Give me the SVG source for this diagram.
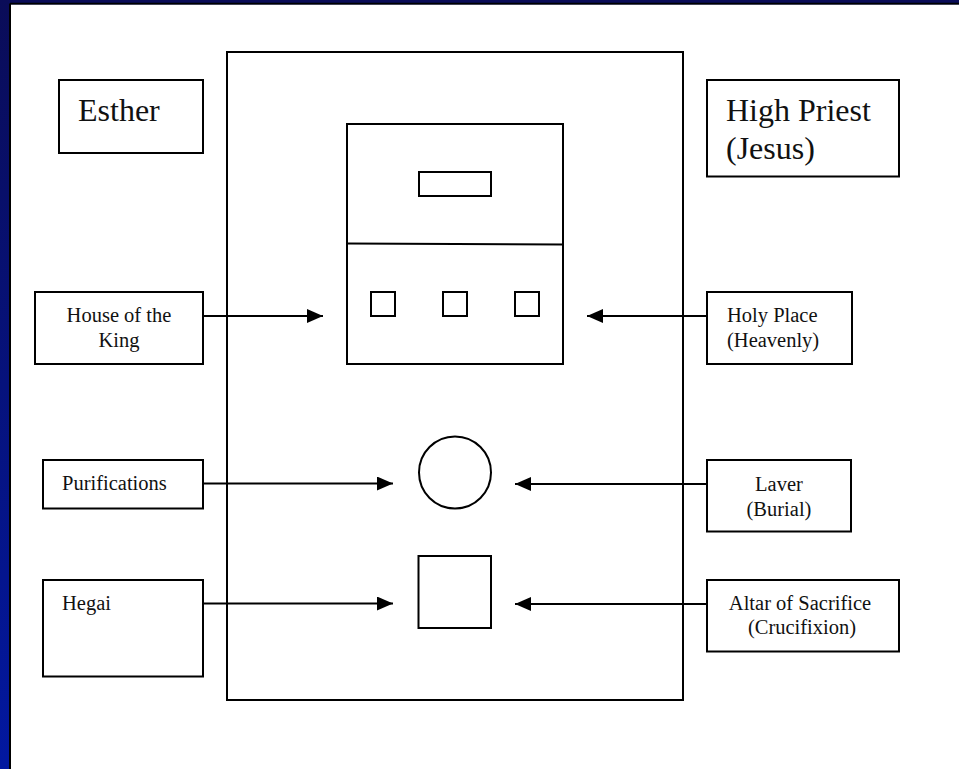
<svg xmlns="http://www.w3.org/2000/svg" width="959" height="769" viewBox="0 0 959 769">
<defs>
<linearGradient id="bg" x1="0" y1="0" x2="0" y2="1">
<stop offset="0" stop-color="#0a0c58"/>
<stop offset="1" stop-color="#0218a0"/>
</linearGradient>
<marker id="ah" markerWidth="16" markerHeight="14" refX="16" refY="7" orient="auto" markerUnits="userSpaceOnUse">
<path d="M0,0 L16,7 L0,14 Z" fill="#000"/>
</marker>
<style>
.box{fill:#fff;stroke:#000;stroke-width:2}
.shape{fill:none;stroke:#000;stroke-width:2}
.t{font-family:"Liberation Serif","Times New Roman",serif;fill:#111}
.big{font-size:32px}
.sm{font-size:20.5px}
.conn{stroke:#000;stroke-width:2;fill:none;marker-end:url(#ah)}
</style>
</defs>
<rect x="0" y="0" width="959" height="769" fill="url(#bg)"/>
<rect x="11" y="4.5" width="948" height="764.5" fill="#fff"/>
<line x1="10" y1="3.5" x2="10" y2="769" stroke="#000" stroke-width="2"/>
<line x1="10" y1="3.6" x2="959" y2="3.6" stroke="#000" stroke-width="1.6"/>

<g id="tabernacle">
<rect class="shape" x="227" y="52" width="456" height="648"/>
<rect class="shape" x="347" y="124" width="216" height="240"/>
<line x1="347" y1="243.5" x2="563" y2="244.5" stroke="#000" stroke-width="2"/>
<rect class="shape" x="419" y="172" width="72" height="24"/>
<rect class="shape" x="371" y="292" width="24" height="24"/>
<rect class="shape" x="443" y="292" width="24" height="24"/>
<rect class="shape" x="515" y="292" width="24" height="24"/>
<circle class="shape" cx="455" cy="472.5" r="36"/>
<rect class="shape" x="418.5" y="556" width="72.5" height="72"/>
</g>

<g id="connectors">
<line class="conn" x1="203" y1="316" x2="323" y2="316"/>
<line class="conn" x1="707" y1="316" x2="587" y2="316"/>
<line class="conn" x1="203" y1="483.5" x2="393" y2="483.5"/>
<line class="conn" x1="707" y1="484" x2="515" y2="484"/>
<line class="conn" x1="203" y1="603.5" x2="393" y2="603.5"/>
<line class="conn" x1="707" y1="604" x2="515" y2="604"/>
</g>

<g id="esther">
<rect class="box" x="59" y="80" width="144" height="73"/>
<text class="t big" x="78" y="121">Esther</text>
</g>
<g id="high-priest">
<rect class="box" x="707" y="80" width="192" height="96.5"/>
<text class="t big" x="726" y="121">High Priest</text>
<text class="t big" x="726" y="159">(Jesus)</text>
</g>
<g id="house-of-the-king">
<rect class="box" x="35" y="292" width="168" height="72"/>
<text class="t sm" x="119" y="322" text-anchor="middle">House of the</text>
<text class="t sm" x="119" y="347" text-anchor="middle">King</text>
</g>
<g id="holy-place">
<rect class="box" x="707" y="292" width="145" height="72"/>
<text class="t sm" x="727" y="322">Holy Place</text>
<text class="t sm" x="727" y="347">(Heavenly)</text>
</g>
<g id="purifications">
<rect class="box" x="43" y="460" width="160" height="48.5"/>
<text class="t sm" x="62" y="490">Purifications</text>
</g>
<g id="laver">
<rect class="box" x="707" y="460" width="144" height="71.5"/>
<text class="t sm" x="779" y="491" text-anchor="middle">Laver</text>
<text class="t sm" x="779" y="516" text-anchor="middle">(Burial)</text>
</g>
<g id="hegai">
<rect class="box" x="43" y="580" width="160" height="96.5"/>
<text class="t sm" x="62" y="610">Hegai</text>
</g>
<g id="altar">
<rect class="box" x="707" y="580" width="192" height="71.5"/>
<text class="t sm" x="800" y="610" text-anchor="middle">Altar of Sacrifice</text>
<text class="t sm" x="802" y="634" text-anchor="middle">(Crucifixion)</text>
</g>
</svg>
